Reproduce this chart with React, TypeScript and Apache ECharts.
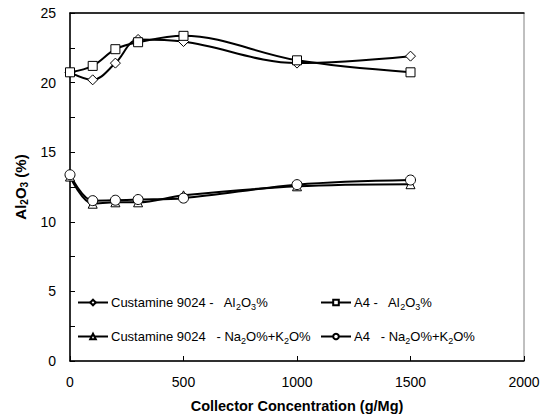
import React, { useEffect, useRef } from "react";
import * as echarts from "echarts";

const concentrations = [0, 100, 200, 300, 500, 1000, 1500];
const custAl2O3 = [20.74, 20.2, 21.4, 23.1, 22.95, 21.4, 21.9];
const a4Al2O3 = [20.74, 21.2, 22.4, 22.9, 23.36, 21.6, 20.74];
const custNaK = [13.25, 11.3, 11.4, 11.4, 11.9, 12.55, 12.7];
const a4NaK = [13.38, 11.52, 11.55, 11.6, 11.7, 12.67, 13.0];

const legendLabels: Record<string, string> = {
  custAl: "Custamine 9024 -   Al{s|2}O{s|3}%",
  a4Al: "A4 -   Al{s|2}O{s|3}%",
  custNaK: "Custamine 9024   - Na{s|2}O%+K{s|2}O%",
  a4NaK: "A4   - Na{s|2}O%+K{s|2}O%",
};

const FONT = "'Liberation Sans', Arial, sans-serif";

export default function App() {
  const ref = useRef<HTMLDivElement>(null);
  useEffect(() => {
    if (!ref.current) return;
    const chart = echarts.init(ref.current, null, { renderer: "svg" });
    const mk = (name: string, vals: number[], symbol: string, size: number) => ({
      name,
      type: "line",
      data: concentrations.map((c, i) => [c, vals[i]]),
      smooth: 0.35,
      symbol,
      symbolSize: size,
      lineStyle: { color: "#000", width: 2 },
      itemStyle: { color: "#fff", borderColor: "#000", borderWidth: 1 },
      z: 3,
    });
    const legendBase = (name: string, left: number, top: number) => ({
      data: [name],
      left,
      top,
      padding: 0,
      itemWidth: 30,
      itemHeight: 7,
      formatter: (n: string) => legendLabels[n],
      textStyle: {
        fontFamily: FONT,
        fontSize: 13,
        color: "#000",
        lineHeight: 17,
        padding: [0, 0, 0, -2],
        rich: {
          s: { fontFamily: FONT, fontSize: 9, lineHeight: 17, verticalAlign: "bottom", padding: [5, 0, 0, 0], color: "#000" },
        },
      },
    });
    chart.setOption({
      animation: false,
      backgroundColor: "#fff",
      textStyle: { fontFamily: FONT },
      grid: {
        left: 70,
        right: 19,
        top: 13,
        bottom: 55,
        show: true,
        borderColor: "#808080",
        borderWidth: 1,
        backgroundColor: "#fff",
      },
      legend: [
        legendBase("custAl", 77, 294),
        legendBase("a4Al", 320, 294),
        legendBase("custNaK", 77, 328),
        legendBase("a4NaK", 320, 328),
      ],
      xAxis: [
        {
          type: "value",
          min: 0,
          max: 2000,
          interval: 500,
          position: "bottom",
          name: "Collector Concentration (g/Mg)",
          nameLocation: "middle",
          nameGap: 37,
          nameTextStyle: { fontFamily: FONT, fontSize: 14.5, fontWeight: "bold", color: "#000" },
          axisLine: { show: true, lineStyle: { color: "#000", width: 1.5 } },
          axisTick: { show: true, inside: true, length: 5, lineStyle: { color: "#000" } },
          axisLabel: { fontFamily: FONT, fontSize: 14, color: "#000", margin: 14, formatter: (v: number) => String(v) },
          splitLine: { show: false },
        },
        {
          type: "value",
          min: 0,
          max: 2000,
          position: "top",
          axisLine: { show: true, lineStyle: { color: "#000", width: 1.5 } },
          axisTick: { show: false },
          axisLabel: { show: false },
          splitLine: { show: false },
        },
      ],
      yAxis: {
        type: "value",
        min: 0,
        max: 25,
        interval: 2.5,
        name: "Al{s|2}O{s|3} (%)",
        nameLocation: "middle",
        nameGap: 34,
        nameRotate: 90,
        nameTextStyle: {
          fontFamily: FONT,
          fontSize: 15,
          fontWeight: "bold",
          color: "#000",
          lineHeight: 18,
          rich: {
            s: { fontFamily: FONT, fontSize: 10, fontWeight: "bold", lineHeight: 18, verticalAlign: "bottom", padding: [6, 0, 0, 0], color: "#000" },
          },
        },
        axisLine: { show: true, lineStyle: { color: "#000", width: 1.5 } },
        axisTick: { show: true, inside: true, length: 5, lineStyle: { color: "#000" } },
        axisLabel: {
          fontFamily: FONT,
          fontSize: 14,
          color: "#000",
          margin: 14,
          formatter: (v: number) => (v % 5 === 0 ? String(v) : ""),
        },
        splitLine: { show: false },
      },
      series: [
        mk("custAl", custAl2O3, "diamond", 10),
        mk("a4Al", a4Al2O3, "rect", 9),
        mk("custNaK", custNaK, "triangle", 9),
        mk("a4NaK", a4NaK, "circle", 10),
      ],
    });
    return () => chart.dispose();
  }, []);
  return <div ref={ref} style={{ width: 543, height: 418, position: "absolute", left: 0, top: 0 }} />;
}
